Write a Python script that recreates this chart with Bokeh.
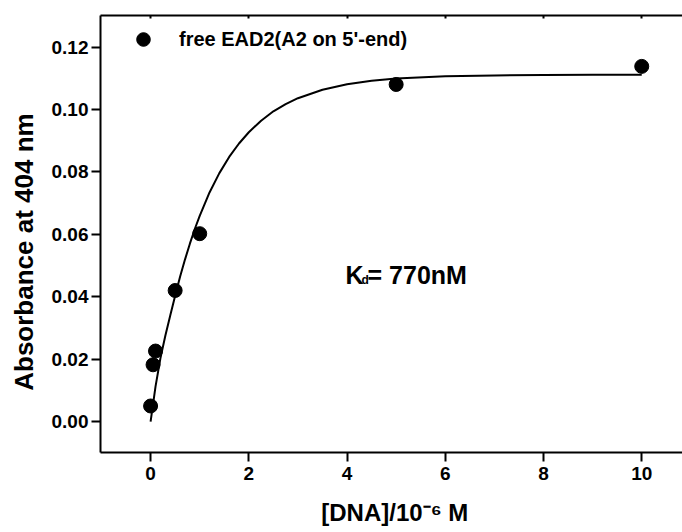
from bokeh.plotting import figure
from bokeh.models import (Legend, LegendItem, LinearAxis, FixedTicker, Label,
                          Range1d, NumeralTickFormatter, CustomJSTickFormatter)
from bokeh.embed import file_html
from bokeh.resources import INLINE

# ---- data ----
conc = [0.0, 0.05, 0.1, 0.5, 1.0, 5.0, 10.0]
absorbance = [0.0050, 0.0182, 0.0226, 0.0420, 0.0602, 0.1080, 0.1138]

# fitted curve
fit_x = [0.0, 0.1, 0.2, 0.3, 0.4, 0.5, 0.6, 0.7, 0.8, 0.9, 1.0, 1.2, 1.4, 1.6,
         1.8, 2.0, 2.25, 2.5, 2.75, 3.0, 3.5, 4.0, 4.5, 5.0, 6.0, 7.0, 8.0,
         9.0, 10.0]
fit_y = [0.0, 0.0112, 0.0203, 0.0275, 0.0340, 0.0403, 0.0464, 0.0519, 0.0570,
         0.0617, 0.0659, 0.0734, 0.0796, 0.0848, 0.0891, 0.0927, 0.0964,
         0.0994, 0.1017, 0.1036, 0.1063, 0.1081, 0.1092, 0.1099, 0.1106,
         0.1109, 0.1110, 0.1111, 0.1111]

x_ticks = [0, 2, 4, 6, 8, 10]
y_ticks = [0.00, 0.02, 0.04, 0.06, 0.08, 0.10, 0.12]

legend_label = "free EAD2(A2 on 5'-end)"
x_label = "[DNA]/10\u207b\u2076 M"
y_label = "Absorbance at 404 nm"
kd_main = "K"
kd_sub = "d"
kd_rest = "= 770nM"

FONT = "Liberation Sans"

p = figure(width=682, height=532, output_backend="svg", toolbar_location=None,
           x_range=Range1d(-1.02, 10.83), y_range=Range1d(-0.0099, 0.1301),
           min_border_left=100, min_border_right=0, min_border_top=15,
           min_border_bottom=80)
p.grid.visible = False
p.outline_line_color = None
p.background_fill_color = "white"
p.border_fill_color = "white"

for ax in (p.xaxis[0], p.yaxis[0]):
    ax.axis_line_width = 2
    ax.major_tick_line_width = 2
    ax.minor_tick_line_color = None
    ax.major_tick_in = 0
    ax.major_tick_out = 9
    ax.major_label_text_font = FONT
    ax.major_label_text_font_style = "bold"
    ax.major_label_text_font_size = "19px"
    ax.major_label_text_color = "black"
    ax.axis_label_text_font = FONT
    ax.axis_label_text_font_style = "bold"
    ax.axis_label_text_color = "black"

p.xaxis[0].axis_label_text_font_size = "24px"
p.yaxis[0].axis_label_text_font_size = "26px"
p.xaxis[0].ticker = FixedTicker(ticks=x_ticks)
p.yaxis[0].ticker = FixedTicker(ticks=y_ticks)
p.yaxis[0].formatter = NumeralTickFormatter(format="0.00")
p.xaxis[0].axis_label = "\u00a0" + x_label
p.yaxis[0].axis_label = y_label + "\u00a0" * 5
p.xaxis[0].major_label_standoff = 5
p.yaxis[0].major_label_standoff = 3
p.xaxis[0].axis_label_standoff = 16
p.yaxis[0].axis_label_standoff = 10

top = LinearAxis(ticker=FixedTicker(ticks=x_ticks),
                 formatter=CustomJSTickFormatter(code="return ''"),
                 axis_line_width=2, major_tick_line_width=2,
                 major_tick_in=3, major_tick_out=0, major_label_standoff=0,
                 minor_tick_line_color=None)
p.add_layout(top, "above")

p.line(fit_x, fit_y, line_color="black", line_width=2)
pts = p.scatter(conc, absorbance, size=14, fill_color="black", line_color="black")

legend = Legend(items=[LegendItem(label=legend_label, renderers=[pts])],
                location="top_left", margin=7, padding=8,
                glyph_width=72, glyph_height=34, label_standoff=-13,
                border_line_color=None, background_fill_alpha=0,
                label_text_font=FONT, label_text_font_style="bold",
                label_text_font_size="20px", label_text_color="black")
p.add_layout(legend)

common = dict(text_font=FONT, text_font_style="bold", text_color="black",
              text_baseline="alphabetic", text_align="left")
p.add_layout(Label(x=3.97, y=0.0470, text=kd_main, text_font_size="25px", **common))
p.add_layout(Label(x=3.97, y=0.0470, x_offset=16, y_offset=-5, text=kd_sub,
                   text_font_size="12px", **common))
p.add_layout(Label(x=3.97, y=0.0470, x_offset=22, text=kd_rest,
                   text_font_size="25px", **common))

open("out.html", "w").write(file_html(p, INLINE))
